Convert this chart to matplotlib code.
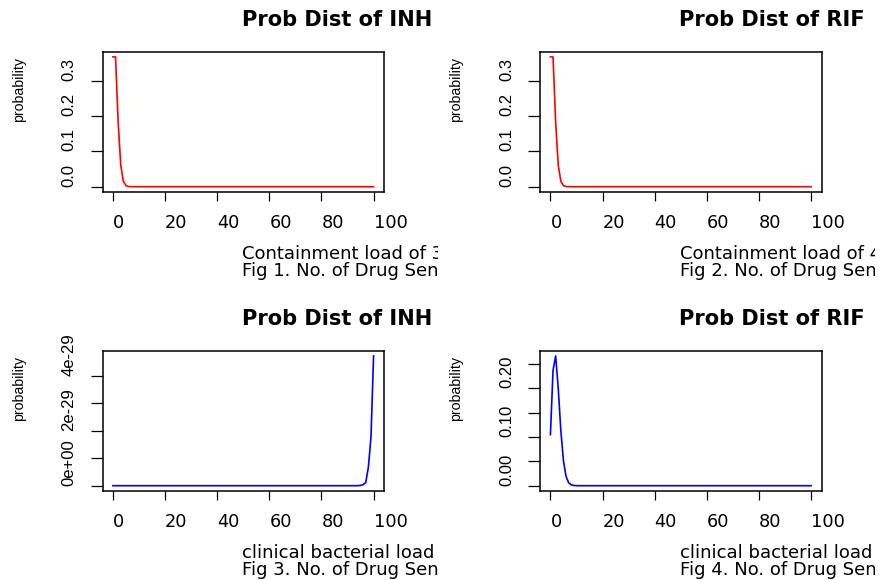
import matplotlib
matplotlib.use("Agg")
import matplotlib.pyplot as plt
from matplotlib.transforms import Bbox, TransformedBbox

W, H = 880, 580

# ---------------- data ----------------
x_vals = list(range(0, 101))

# Fig 1 / Fig 2: containment load, values for x = 0..7, flat at 0 afterwards
contain_inh_head = [0.3679, 0.3679, 0.1839, 0.0613, 0.0153, 0.0031, 0.0005, 0.0001]
contain_rif_head = [0.3679, 0.3679, 0.1839, 0.0613, 0.0153, 0.0031, 0.0005, 0.0001]
# Fig 3: clinical load INH, flat at 0 until x = 93, values for x = 94..100
clinical_inh_tail = [0.002e-29, 0.01e-29, 0.04e-29, 0.12e-29, 0.67e-29, 1.76e-29, 4.73e-29]
# Fig 4: clinical load RIF, values for x = 0..10, flat at 0 afterwards
clinical_rif_head = [0.105, 0.237, 0.267, 0.200, 0.113, 0.051, 0.019, 0.006, 0.0017, 0.0004, 0.0001]

prob_contain_inh = contain_inh_head + [0.0] * (len(x_vals) - len(contain_inh_head))
prob_contain_rif = contain_rif_head + [0.0] * (len(x_vals) - len(contain_rif_head))
prob_clinical_inh = [0.0] * (len(x_vals) - len(clinical_inh_tail)) + clinical_inh_tail
prob_clinical_rif = clinical_rif_head + [0.0] * (len(x_vals) - len(clinical_rif_head))

series = [prob_contain_inh, prob_contain_rif, prob_clinical_inh, prob_clinical_rif]
colors = ["#FF0000", "#FF0000", "#0000FF", "#0000FF"]
titles = ["Prob Dist of INH", "Prob Dist of RIF", "Prob Dist of INH", "Prob Dist of RIF"]
xlab_line1 = ["Containment load of 3", "Containment load of 4",
              "clinical bacterial load", "clinical bacterial load"]
xlab_line2 = ["Fig 1. No. of Drug Sen", "Fig 2. No. of Drug Sen",
              "Fig 3. No. of Drug Sen", "Fig 4. No. of Drug Sen"]
ylabel = "probability"

x_ticks = [0, 20, 40, 60, 80, 100]
x_ticklabels = ["0", "20", "40", "60", "80", "100"]
y_ticks = [
    [0.0, 0.1, 0.2, 0.3],
    [0.0, 0.1, 0.2, 0.3],
    [0.0, 1e-29, 2e-29, 3e-29, 4e-29],
    [0.0, 0.05, 0.10, 0.15, 0.20, 0.25],
]
y_ticklabels = [
    ["0.0", "0.1", "0.2", "0.3"],
    ["0.0", "0.1", "0.2", "0.3"],
    ["0e+00", "", "2e-29", "", "4e-29"],
    ["0.00", "", "0.10", "", "0.20", ""],
]

# ---------------- layout (pixels) ----------------
col_w = 437.5
box_left0 = 102.5
box_w = 281.5
row_tops = [51.7, 350.7]
box_h = 140.2

fig = plt.figure(figsize=(W / 100, H / 100), dpi=100)
fig.patch.set_facecolor("white")


def fx(px):
    return px / W


def fy(py):
    return 1 - py / H


for i in range(4):
    r, c = divmod(i, 2)
    left = box_left0 + c * col_w
    top = row_tops[r]
    ax = fig.add_axes([fx(left), fy(top + box_h), box_w / W, box_h / H])
    ax.plot(x_vals, series[i], color=colors[i], lw=1.2)
    ax.margins(x=0.04, y=0.04)
    ax.set_xticks(x_ticks)
    ax.set_xticklabels(x_ticklabels)
    ax.set_yticks(y_ticks[i])
    ax.set_yticklabels(y_ticklabels[i])
    for s in ax.spines.values():
        s.set_linewidth(1.1)
        s.set_color("black")
    ax.tick_params(axis="x", length=6.3, width=0.9, pad=9.5, labelsize=12.8)
    ax.tick_params(axis="y", length=8.9, width=0.9, pad=9.8, labelsize=12,
                   labelrotation=90)
    plt.setp(ax.get_xticklabels(), ha="left", family="DejaVu Sans")
    plt.setp(ax.get_yticklabels(), va="bottom", ha="right", family="Liberation Sans")

    clip = TransformedBbox(Bbox.from_extents(fx(c * col_w), 0, fx((c + 1) * col_w), 1),
                           fig.transFigure)
    xc = left + box_w / 2
    yc = top + box_h / 2
    bottom = top + box_h

    t = fig.text(fx(xc - 1.5), fy(top - 25.9), titles[i], ha="left", va="baseline",
                 fontsize=15.1, fontweight="bold", family="DejaVu Sans")
    t.set_clip_box(clip)
    t.set_clip_on(True)

    t1 = fig.text(fx(xc - 1), fy(bottom + 67.5), xlab_line1[i], ha="left", va="baseline",
                  fontsize=13.0, family="DejaVu Sans")
    t2 = fig.text(fx(xc - 1), fy(bottom + 84.5), xlab_line2[i], ha="left", va="baseline",
                  fontsize=13.0, family="DejaVu Sans")
    for t in (t1, t2):
        t.set_clip_box(clip)
        t.set_clip_on(True)

    fig.text(fx(c * col_w + 19), fy(yc), ylabel, rotation=90, ha="center", va="bottom",
             fontsize=10.2, family="Liberation Sans")

fig.savefig("out.png", dpi=100, facecolor="white")
